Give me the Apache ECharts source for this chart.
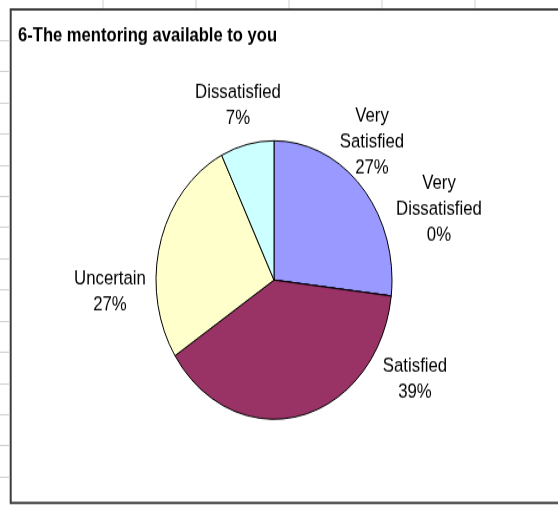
<!DOCTYPE html>
<html>
<head>
<meta charset="utf-8">
<title>6-The mentoring available to you</title>
<script src="https://cdn.jsdelivr.net/npm/echarts@6.0.0/dist/echarts.min.js"></script>
<style>
  html { overflow: hidden; }
  body { margin: 0; padding: 0; background: #fff; width: 558px; height: 505px; }
  /* the reference picture is stretched vertically, so the whole chart is too */
  #chart { width: 558px; height: 428px; transform: scaleY(1.18); transform-origin: 0 0; }
</style>
</head>
<body>
<div id="chart"></div>
<script>
const categories = ['Very Satisfied', 'Very Dissatisfied', 'Satisfied', 'Uncertain', 'Dissatisfied']
const counts = [11, 0, 16, 11, 3]
const sliceColors = ['#9999FF', '#660066', '#993366', '#FFFFCC', '#CCFFFF']
// label centres, in unstretched px
const labelCenters = [[372, 120], [439, 177.5], [415, 321], [110, 247], [238, 89]]

const font = 'Liberation Sans, Arial, sans-serif'
const gridColor = '#cfcfcf'

// spreadsheet cells peeking around the chart area
const sheet = []
;[103, 196, 289, 382, 475].forEach(function (x) {
  sheet.push({ type: 'line', shape: { x1: x, y1: 0, x2: x, y2: 7 }, style: { stroke: gridColor, lineWidth: 1 }, silent: true })
})
for (let i = 1; i < 16; i++) {
  const y = Math.round(7.3 + 26.44 * i) + 0.5
  sheet.push({ type: 'line', shape: { x1: 0, y1: y, x2: 10, y2: y }, style: { stroke: gridColor, lineWidth: 1 }, silent: true })
}
sheet.push({
  type: 'rect',
  shape: { x: 10.7, y: 8, width: 600, height: 418.3 },
  style: { fill: '#fff', stroke: '#3c3c3c', lineWidth: 2 },
  silent: true,
  z: -1
})

const myChart = echarts.init(document.getElementById('chart'))
const option = {
  animation: false,
  backgroundColor: '#fff',
  graphic: sheet,
  title: {
    text: '6-The mentoring available to you',
    left: 18,
    top: 22,
    padding: 0,
    textStyle: { fontFamily: font, fontSize: 16.6, fontWeight: 'bold', color: '#000' }
  },
  series: [
    {
      type: 'pie',
      center: [274, 237.3],
      radius: 118,
      startAngle: 90,
      clockwise: true,
      percentPrecision: 0,
      avoidLabelOverlap: false,
      itemStyle: { borderColor: '#000', borderWidth: 1 },
      label: {
        show: true,
        position: 'outside',
        align: 'center',
        fontFamily: font,
        fontSize: 16.8,
        lineHeight: 22,
        color: '#000',
        formatter: function (p) {
          return p.name.replace('Very ', 'Very\n') + '\n' + p.percent + '%'
        }
      },
      labelLine: { show: false },
      labelLayout: function (params) {
        const c = labelCenters[params.dataIndex]
        return { x: c[0], y: c[1], align: 'center', verticalAlign: 'middle' }
      },
      emphasis: { disabled: true },
      data: categories.map(function (name, i) {
        return { name: name, value: counts[i], itemStyle: { color: sliceColors[i] } }
      })
    }
  ]
}
myChart.setOption(option)
</script>
</body>
</html>
